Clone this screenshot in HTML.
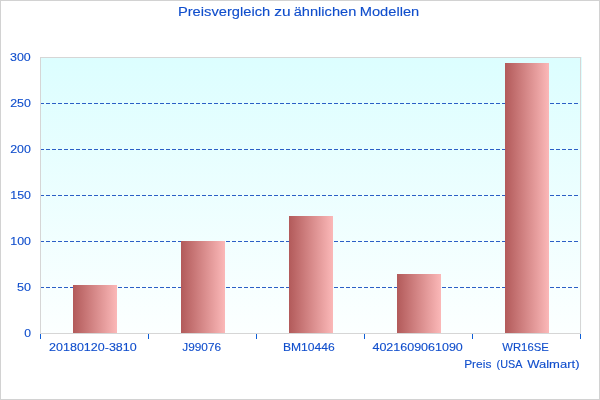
<!DOCTYPE html>
<html><head><meta charset="utf-8"><title>Preisvergleich</title>
<style>
html,body{margin:0;padding:0;background:#fff;}
body{width:600px;height:400px;overflow:hidden;font-family:"Liberation Sans",sans-serif;}
svg{display:block;}
text{font-family:"Liberation Sans",sans-serif;fill:#104ecc;stroke:#104ecc;stroke-width:0.12px;}
</style></head><body>
<svg width="600" height="400" viewBox="0 0 600 400">
<defs>
<linearGradient id="bg" x1="0" y1="0" x2="0" y2="1"><stop offset="0" stop-color="#dcfeff"/><stop offset="1" stop-color="#fcffff"/></linearGradient>
<linearGradient id="bar" x1="0" y1="0" x2="1" y2="0"><stop offset="0" stop-color="#b25a5a"/><stop offset="1" stop-color="#fbb8b8"/></linearGradient>
</defs>
<rect x="0" y="0" width="600" height="400" fill="#ffffff"/>
<rect x="0.5" y="0.5" width="599" height="399" fill="none" stroke="#d2d2d2" stroke-width="1"/>

<rect x="40" y="57" width="542" height="277" fill="url(#bg)"/>
<line x1="40" y1="287.5" x2="580" y2="287.5" stroke="#2b5fc6" stroke-width="1" stroke-dasharray="4 2" shape-rendering="crispEdges"/>
<line x1="40" y1="241.5" x2="580" y2="241.5" stroke="#2b5fc6" stroke-width="1" stroke-dasharray="4 2" shape-rendering="crispEdges"/>
<line x1="40" y1="195.5" x2="580" y2="195.5" stroke="#2b5fc6" stroke-width="1" stroke-dasharray="4 2" shape-rendering="crispEdges"/>
<line x1="40" y1="149.5" x2="580" y2="149.5" stroke="#2b5fc6" stroke-width="1" stroke-dasharray="4 2" shape-rendering="crispEdges"/>
<line x1="40" y1="103.5" x2="580" y2="103.5" stroke="#2b5fc6" stroke-width="1" stroke-dasharray="4 2" shape-rendering="crispEdges"/>
<rect x="40.5" y="57.5" width="540" height="276" fill="none" stroke="#d6d6d6" stroke-width="1" shape-rendering="crispEdges"/>
<rect x="73" y="285" width="44" height="48" fill="url(#bar)" shape-rendering="crispEdges"/>
<rect x="181" y="241" width="44" height="92" fill="url(#bar)" shape-rendering="crispEdges"/>
<rect x="289" y="216" width="44" height="117" fill="url(#bar)" shape-rendering="crispEdges"/>
<rect x="397" y="274" width="44" height="59" fill="url(#bar)" shape-rendering="crispEdges"/>
<rect x="505" y="63" width="44" height="270" fill="url(#bar)" shape-rendering="crispEdges"/>
<rect x="40" y="334" width="1" height="5" fill="#0f5fd7" shape-rendering="crispEdges"/>
<rect x="148" y="334" width="1" height="5" fill="#0f5fd7" shape-rendering="crispEdges"/>
<rect x="256" y="334" width="1" height="5" fill="#0f5fd7" shape-rendering="crispEdges"/>
<rect x="364" y="334" width="1" height="5" fill="#0f5fd7" shape-rendering="crispEdges"/>
<rect x="472" y="334" width="1" height="5" fill="#0f5fd7" shape-rendering="crispEdges"/>
<rect x="580" y="334" width="1" height="5" fill="#0f5fd7" shape-rendering="crispEdges"/>
<g opacity="0.999">
<text transform="translate(177.88,16) scale(1.1061,1)" font-size="13.3">Preisvergleich</text>
<text transform="translate(274.34,16) scale(1.1653,1)" font-size="13.3">zu</text>
<text transform="translate(293.72,16) scale(1.0994,1)" font-size="13.3">ähnlichen</text>
<text transform="translate(359.66,16) scale(1.1049,1)" font-size="13.3">Modellen</text>
<text transform="translate(49.12,351) scale(1.1171,1)" font-size="11.2">20180120-3810</text>
<text transform="translate(182.28,351) scale(1.0562,1)" font-size="11.2">J99076</text>
<text transform="translate(282.97,351) scale(1.0808,1)" font-size="11.2">BM10446</text>
<text transform="translate(372.44,351) scale(1.1181,1)" font-size="11.2">4021609061090</text>
<text transform="translate(502.28,351) scale(1.0096,1)" font-size="11.2">WR16SE</text>
<text transform="translate(464.17,368) scale(1.0658,1)" font-size="11.2">Preis</text>
<text transform="translate(496.55,368) scale(0.9653,1)" font-size="11.2">(USA</text>
<text transform="translate(527.13,368) scale(1.1642,1)" font-size="11.2">Walmart)</text>
<text transform="translate(9.99,61) scale(1.1124,1)" font-size="11.2">300</text>
<text transform="translate(10.18,107) scale(1.1083,1)" font-size="11.2">250</text>
<text transform="translate(10.18,153) scale(1.1083,1)" font-size="11.2">200</text>
<text transform="translate(10.26,199) scale(1.1080,1)" font-size="11.2">150</text>
<text transform="translate(10.26,245) scale(1.1080,1)" font-size="11.2">100</text>
<text transform="translate(16.98,291) scale(1.1227,1)" font-size="11.2">50</text>
<text transform="translate(24.17,337) scale(1.0875,1)" font-size="11.2">0</text>
</g>
</svg>
</body></html>
